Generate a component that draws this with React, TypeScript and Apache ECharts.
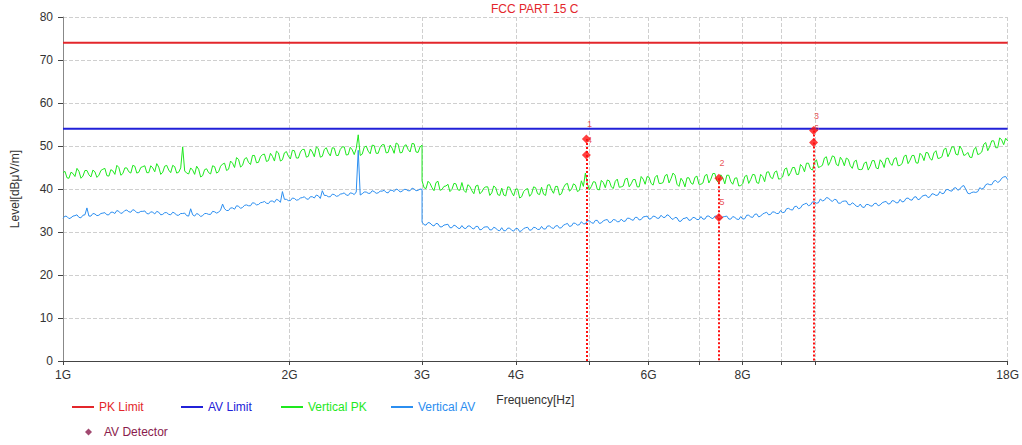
import React, { useEffect, useRef } from "react";
import * as echarts from "echarts";

// ---- Data -------------------------------------------------------------
// Sweep segments (GHz): 1G-3G and 3G-18G, log-spaced sample points
const SWEEP1 = { start: 1, stop: 3, points: 181 };
const SWEEP2 = { start: 3, stop: 18, points: 295 };

const PK_SEG1 = [
  43.8, 44.1, 42.6, 42.5, 43.9, 43.6, 42.9, 44.8, 44.1, 42.5, 43.0, 44.3, 44.3, 43.3, 42.8, 44.4, 44.0, 42.7, 43.2, 44.3,
  44.6, 44.8, 43.1, 43.0, 44.5, 44.2, 43.4, 45.5, 45.0, 43.2, 43.6, 44.9, 44.9, 44.0, 43.7, 45.5, 45.3, 43.7, 43.9, 45.0,
  45.2, 45.4, 43.8, 43.8, 45.4, 44.9, 44.0, 45.9, 45.1, 43.4, 43.9, 45.3, 45.5, 44.4, 43.8, 45.5, 45.2, 43.7, 43.9, 44.9,
  49.8, 44.2, 43.7, 43.5, 44.9, 44.4, 43.4, 45.3, 44.6, 42.8, 43.1, 44.5, 44.7, 43.8, 43.5, 45.4, 45.2, 43.7, 44.0, 45.3,
  45.8, 46.0, 44.3, 44.6, 46.5, 46.0, 45.0, 47.3, 46.9, 45.1, 45.5, 47.0, 47.3, 46.2, 45.7, 47.8, 47.8, 46.1, 46.2, 47.5,
  48.0, 48.1, 46.4, 46.6, 48.3, 47.6, 46.5, 48.8, 48.4, 46.5, 46.8, 48.4, 48.7, 47.6, 47.0, 49.0, 48.9, 47.2, 47.2, 48.6,
  49.2, 49.2, 47.4, 47.6, 49.3, 48.6, 47.5, 49.8, 49.4, 47.4, 47.6, 49.2, 49.6, 48.4, 47.7, 49.6, 49.5, 47.8, 47.8, 49.2,
  49.8, 49.8, 47.9, 48.0, 49.7, 49.1, 48.0, 49.4, 52.6, 47.8, 48.1, 49.7, 50.0, 48.8, 48.2, 50.2, 50.1, 48.3, 48.3, 49.7,
  50.3, 50.3, 48.4, 48.5, 50.2, 49.5, 48.3, 50.7, 50.4, 48.4, 48.5, 50.0, 50.3, 49.2, 48.6, 50.6, 50.5, 48.6, 48.5, 49.8,
  50.2,
];

const PK_SEG2 = [
  41.9, 40.3, 40.1, 41.8, 41.3, 40.3, 39.6, 41.5, 41.8, 39.7, 39.9, 40.6, 40.7, 41.1, 39.4, 39.9, 41.3, 41.2, 39.8, 39.7,
  41.5, 39.7, 39.2, 41.0, 40.6, 39.6, 38.9, 40.7, 40.9, 38.9, 39.3, 40.2, 40.5, 40.5, 38.5, 39.1, 40.7, 40.3, 38.7, 38.5,
  40.2, 38.6, 38.4, 40.5, 40.4, 39.2, 38.4, 40.0, 40.0, 37.9, 38.2, 39.4, 39.9, 40.1, 38.3, 38.9, 40.5, 40.3, 38.9, 38.7,
  40.4, 38.8, 38.5, 40.9, 41.0, 39.8, 39.0, 40.6, 40.6, 38.6, 38.9, 40.3, 41.1, 41.3, 39.5, 39.9, 41.2, 40.9, 39.4, 39.7,
  41.9, 40.6, 43.7, 41.2, 39.8, 40.6, 41.7, 41.6, 39.9, 39.8, 42.0, 41.5, 40.3, 42.1, 41.9, 40.5, 40.1, 41.8, 42.3, 40.4,
  40.5, 40.7, 42.3, 42.5, 40.5, 41.2, 42.2, 42.2, 40.5, 40.5, 42.9, 42.3, 41.1, 42.9, 42.7, 41.3, 40.9, 42.7, 43.2, 41.3,
  41.3, 41.5, 43.1, 43.4, 41.4, 42.4, 43.7, 43.2, 41.1, 40.6, 42.5, 41.8, 40.5, 42.6, 42.6, 41.4, 41.1, 42.7, 43.0, 41.1,
  41.1, 41.4, 43.1, 43.4, 41.4, 42.3, 43.6, 43.6, 41.9, 41.4, 43.3, 42.6, 41.2, 43.2, 43.2, 41.7, 41.1, 42.5, 42.6, 40.7,
  40.8, 41.2, 42.9, 43.2, 41.3, 42.2, 43.4, 43.3, 41.5, 41.3, 43.4, 42.9, 41.7, 43.9, 44.0, 42.7, 42.4, 43.9, 44.2, 42.3,
  42.4, 42.8, 44.6, 44.9, 43.0, 43.8, 45.0, 45.0, 43.4, 43.4, 45.7, 45.2, 44.0, 46.0, 46.0, 44.7, 44.4, 46.2, 46.8, 45.0,
  45.2, 45.5, 47.2, 47.5, 45.5, 46.4, 47.7, 47.5, 45.7, 45.4, 47.4, 46.7, 45.4, 47.2, 46.9, 45.4, 44.8, 46.4, 46.7, 44.6,
  44.5, 44.6, 46.0, 46.3, 44.4, 45.3, 46.6, 46.6, 44.9, 44.7, 46.8, 46.2, 45.0, 47.1, 47.2, 45.9, 45.5, 47.0, 47.3, 45.4,
  45.5, 45.9, 47.6, 47.9, 45.9, 46.7, 47.8, 47.8, 46.1, 46.0, 48.3, 47.8, 46.6, 48.5, 48.4, 47.1, 46.7, 48.4, 48.9, 47.1,
  47.2, 47.5, 49.2, 49.5, 47.5, 48.5, 49.8, 49.8, 48.1, 47.9, 50.0, 49.2, 47.8, 48.0, 48.5, 47.4, 47.3, 49.1, 49.7, 48.0,
  48.2, 48.6, 50.4, 50.8, 48.9, 49.9, 51.2, 51.2, 49.6, 49.6, 51.9, 51.4, 50.3, 51.8,
  51.2,
];

const AV_SEG1 = [
  33.2, 33.7, 33.6, 33.1, 33.3, 33.7, 33.8, 34.0, 33.4, 33.3, 33.9, 34.0, 35.6, 33.7, 33.7, 34.3, 34.2, 33.8, 33.9, 34.3,
  34.4, 34.5, 34.0, 34.0, 34.6, 34.6, 34.3, 35.0, 34.8, 34.3, 34.5, 35.0, 35.1, 34.7, 34.6, 35.2, 35.0, 34.5, 34.5, 34.8,
  34.8, 34.9, 34.3, 34.2, 34.7, 34.6, 34.2, 34.8, 34.6, 34.0, 34.1, 34.5, 34.5, 34.1, 34.0, 34.6, 34.4, 33.9, 33.9, 34.3,
  34.3, 34.4, 33.8, 33.7, 35.4, 34.0, 33.7, 34.3, 34.1, 33.6, 33.8, 34.3, 34.3, 34.1, 34.1, 34.8, 34.7, 34.4, 34.6, 35.1,
  36.5, 35.4, 35.0, 35.0, 35.6, 35.6, 35.3, 36.1, 36.0, 35.5, 35.7, 36.2, 36.3, 36.1, 36.1, 36.8, 36.7, 36.3, 36.4, 36.8,
  36.9, 37.1, 36.7, 36.6, 37.2, 37.2, 36.9, 37.6, 37.4, 36.9, 39.4, 37.6, 37.6, 37.3, 37.3, 37.9, 37.8, 37.4, 37.5, 37.9,
  38.0, 38.2, 37.7, 37.6, 38.2, 38.2, 37.9, 38.6, 38.4, 37.8, 39.6, 38.5, 38.5, 38.2, 38.2, 38.8, 38.7, 38.3, 38.4, 38.8,
  38.9, 39.1, 38.6, 38.5, 39.1, 39.0, 38.7, 39.3, 49.0, 38.6, 38.9, 39.3, 39.3, 39.0, 39.0, 39.6, 39.4, 39.0, 39.1, 39.5,
  39.5, 39.7, 39.2, 39.1, 39.7, 39.7, 39.4, 40.0, 39.8, 39.3, 39.5, 39.9, 39.9, 39.6, 39.6, 40.2, 40.0, 39.6, 39.7, 40.0,
  39.9,
];

const AV_SEG2 = [
  32.3, 31.7, 31.6, 32.2, 32.1, 31.6, 31.4, 32.0, 31.9, 31.2, 31.2, 31.6, 31.7, 31.8, 31.0, 31.0, 31.6, 31.4, 30.9, 30.8,
  31.5, 30.9, 30.8, 31.4, 31.4, 30.9, 30.7, 31.3, 31.3, 30.5, 30.6, 31.1, 31.2, 31.2, 30.5, 30.5, 31.1, 30.9, 30.4, 30.3,
  31.0, 30.3, 30.3, 30.9, 30.9, 30.4, 30.2, 30.8, 30.8, 30.1, 30.3, 30.8, 31.0, 31.1, 30.4, 30.5, 31.1, 31.0, 30.6, 30.6,
  31.3, 30.7, 30.7, 31.4, 31.4, 31.0, 30.8, 31.4, 31.5, 30.9, 31.0, 31.6, 31.8, 32.0, 31.3, 31.4, 32.1, 32.0, 31.6, 31.7,
  32.4, 31.9, 31.9, 32.6, 32.6, 32.2, 32.0, 32.7, 32.7, 32.0, 32.1, 32.6, 32.8, 32.9, 32.2, 32.3, 32.9, 32.8, 32.4, 32.4,
  33.0, 32.5, 32.5, 33.2, 33.2, 32.9, 32.7, 33.4, 33.4, 32.8, 32.9, 33.5, 33.6, 33.7, 33.0, 33.1, 33.7, 33.6, 33.2, 33.2,
  33.9, 33.4, 33.4, 34.0, 33.8, 33.2, 32.9, 33.4, 33.3, 32.5, 32.5, 33.1, 33.2, 33.4, 32.7, 32.8, 33.4, 33.3, 32.9, 32.9,
  33.6, 33.0, 33.0, 33.7, 33.7, 33.3, 33.1, 33.7, 33.7, 33.0, 33.1, 33.5, 33.6, 33.7, 33.0, 33.0, 33.6, 33.4, 33.0, 32.9,
  33.6, 33.0, 33.1, 33.9, 33.9, 33.5, 33.4, 34.1, 34.2, 33.5, 33.7, 34.2, 34.4, 34.6, 34.0, 34.1, 34.7, 34.6, 34.3, 34.3,
  35.0, 34.5, 34.6, 35.4, 35.5, 35.2, 35.1, 35.9, 36.0, 35.4, 35.6, 36.3, 36.5, 36.7, 36.1, 36.3, 37.0, 37.0, 36.7, 36.8,
  37.7, 37.2, 37.4, 38.0, 37.9, 37.4, 37.1, 37.6, 37.5, 36.7, 36.7, 37.1, 37.2, 37.2, 36.4, 36.3, 36.8, 36.5, 36.0, 35.9,
  36.5, 35.8, 35.7, 36.4, 36.4, 36.1, 36.0, 36.6, 36.7, 36.1, 36.3, 36.8, 37.0, 37.1, 36.5, 36.6, 37.3, 37.2, 36.8, 36.8,
  37.6, 37.0, 37.1, 37.8, 37.9, 37.5, 37.4, 38.1, 38.2, 37.5, 37.7, 38.3, 38.5, 38.6, 38.0, 38.2, 38.9, 38.8, 38.5, 38.6,
  39.4, 38.9, 39.0, 39.8, 39.9, 39.6, 39.5, 40.2, 40.3, 39.7, 40.0, 40.6, 40.8, 39.9, 39.0, 38.9, 39.2, 39.3, 39.2, 39.4,
  40.3, 40.0, 40.2, 41.0, 41.2, 41.0, 41.0, 41.8, 42.0, 41.5, 41.8, 42.5, 42.8, 42.9,
  42.2,
];

const PK_LIMIT = 74;
const AV_LIMIT = 54;
const LIMIT_SPAN = [1, 18];

const MARKER_FREQ = [4.96, 7.44, 9.94];
const PK_MARKERS = [51.6, 42.5, 53.6];
const AV_MARKERS = [47.9, 33.4, 50.8];
const PK_MARKER_LABELS = ["1", "2", "3"];
const AV_MARKER_LABELS = ["4", "5", "6"];

const X_LABEL_VALUES = [1, 2, 3, 4, 6, 8, 18];
const X_TICK_VALUES = [1, 2, 3, 4, 5, 6, 7, 8, 9, 10, 18];

// ---- Helpers ----------------------------------------------------------
function sweep(s: { start: number; stop: number; points: number }) {
  const out: number[] = [];
  for (let i = 0; i < s.points; i++) {
    out.push(s.start * Math.pow(s.stop / s.start, i / (s.points - 1)));
  }
  return out;
}

function joinTrace(a: number[], b: number[]) {
  const f1 = sweep(SWEEP1);
  const f2 = sweep(SWEEP2);
  return [
    ...a.map((v, i) => [f1[i], v]),
    ...b.map((v, i) => [f2[i], v]),
  ];
}

const FONT = "'Liberation Sans', Arial, sans-serif";
const RED = "#e3262b";
const BLUE = "#2121d8";
const GREEN = "#1ee81e";
const LBLUE = "#2b8ef0";
const MAROON = "#8a1c4c";

export default function App() {
  const ref = useRef<HTMLDivElement>(null);

  useEffect(() => {
    if (!ref.current) return;
    const chart = echarts.init(ref.current, undefined, { renderer: "svg" });

    const pk = joinTrace(PK_SEG1, PK_SEG2);
    const av = joinTrace(AV_SEG1, AV_SEG2);

    const limitData = (v: number, text: string, color: string) => [
      [LIMIT_SPAN[0], v],
      {
        value: [LIMIT_SPAN[1], v],
        label: {
          show: true,
          position: "top",
          align: "right",
          distance: 5,
          formatter: text,
          color,
          fontSize: 12,
          fontFamily: FONT,
        },
      },
    ];

    const legendBase = {
      orient: "horizontal",
      padding: 0,
      itemWidth: 22,
      itemHeight: 2,
      icon: "rect",
      selectedMode: false,
    };

    chart.setOption({
      animation: false,
      backgroundColor: "#ffffff",
      textStyle: { fontFamily: FONT },
      title: {
        text: "FCC PART 15 C",
        left: 491,
        top: 3,
        padding: 0,
        textStyle: { color: RED, fontSize: 12, fontWeight: "normal", fontFamily: FONT },
      },
      legend: [
        { ...legendBase, left: 72, top: 401, data: ["PK Limit"], textStyle: { color: RED, fontSize: 12, fontFamily: FONT } },
        { ...legendBase, left: 181, top: 401, data: ["AV Limit"], textStyle: { color: BLUE, fontSize: 12, fontFamily: FONT } },
        { ...legendBase, left: 281, top: 401, data: ["Vertical PK"], textStyle: { color: GREEN, fontSize: 12, fontFamily: FONT } },
        { ...legendBase, left: 391, top: 401, data: ["Vertical AV"], textStyle: { color: LBLUE, fontSize: 12, fontFamily: FONT } },
        {
          ...legendBase,
          left: 85,
          top: 426,
          icon: "diamond",
          itemWidth: 7,
          itemHeight: 7,
          data: [{ name: "AV Detector", itemStyle: { color: MAROON } }],
          textStyle: { color: MAROON, fontSize: 12, fontFamily: FONT, padding: [0, 0, 0, 7] },
        },
      ],
      grid: { left: 63, right: 12, top: 17, bottom: 84, containLabel: false },
      xAxis: {
        type: "log",
        logBase: 10,
        min: 1,
        max: 18,
        name: "Frequency[Hz]",
        nameLocation: "middle",
        nameGap: 33,
        nameTextStyle: { color: "#333", fontSize: 12, fontFamily: FONT },
        axisLine: { lineStyle: { color: "#444", width: 1 } },
        axisTick: { show: true, length: 4, customValues: X_TICK_VALUES, lineStyle: { color: "#444" } },
        axisLabel: {
          customValues: X_LABEL_VALUES,
          formatter: (v: number) => Math.round(v) + "G",
          color: "#333",
          fontSize: 12,
          margin: 8,
          fontFamily: FONT,
        },
        splitLine: { show: true, lineStyle: { color: "#cfcfcf", type: "dashed", width: 1 } },
        minorSplitLine: { show: false },
      },
      yAxis: {
        type: "value",
        min: 0,
        max: 80,
        interval: 10,
        name: "Level[dBμV/m]",
        nameLocation: "middle",
        nameGap: 42,
        nameTextStyle: { color: "#333", fontSize: 12, fontFamily: FONT },
        axisLine: { show: true, lineStyle: { color: "#888", width: 1 } },
        axisTick: { show: true, length: 5, lineStyle: { color: "#444" } },
        axisLabel: { color: "#333", fontSize: 12, margin: 10, fontFamily: FONT },
        splitLine: { show: true, lineStyle: { color: "#cfcfcf", type: "dashed", width: 1 } },
      },
      series: [
        {
          name: "Vertical PK",
          type: "line",
          data: pk,
          showSymbol: false,
          symbol: "none",
          lineStyle: { color: GREEN, width: 1 },
          itemStyle: { color: GREEN },
          z: 2,
        },
        {
          name: "Vertical AV",
          type: "line",
          data: av,
          showSymbol: false,
          symbol: "none",
          lineStyle: { color: LBLUE, width: 1 },
          itemStyle: { color: LBLUE },
          z: 3,
        },
        {
          name: "PK Limit",
          type: "line",
          data: limitData(PK_LIMIT, "FCC PART 15 C-PK Limit", RED),
          symbol: "none",
          lineStyle: { color: RED, width: 2 },
          itemStyle: { color: RED },
          z: 4,
        },
        {
          name: "AV Limit",
          type: "line",
          data: limitData(AV_LIMIT, "FCC PART 15 C-AV Limit", BLUE),
          symbol: "none",
          lineStyle: { color: BLUE, width: 2 },
          itemStyle: { color: BLUE },
          z: 4,
        },
        {
          name: "PK Detector",
          type: "scatter",
          symbol: "diamond",
          symbolSize: 9,
          itemStyle: { color: "#ff1010" },
          data: MARKER_FREQ.map((f, i) => ({ value: [f, PK_MARKERS[i]], name: PK_MARKER_LABELS[i] })),
          label: {
            show: true,
            position: "top",
            distance: 6,
            offset: [3, 0],
            formatter: "{b}",
            color: RED,
            fontSize: 9,
            fontFamily: FONT,
          },
          markLine: {
            silent: true,
            symbol: "none",
            label: { show: false },
            lineStyle: { color: "#ff1010", type: "dotted", width: 2 },
            data: MARKER_FREQ.map((f, i) => [
              { coord: [f, PK_MARKERS[i]] },
              { coord: [f, 0] },
            ]),
          },
          z: 6,
        },
        {
          name: "AV Detector",
          type: "scatter",
          symbol: "diamond",
          symbolSize: 9,
          itemStyle: { color: "#ff1010" },
          data: MARKER_FREQ.map((f, i) => ({ value: [f, AV_MARKERS[i]], name: AV_MARKER_LABELS[i] })),
          label: {
            show: true,
            position: "top",
            distance: 6,
            offset: [3, 0],
            formatter: "{b}",
            color: RED,
            fontSize: 9,
            fontFamily: FONT,
          },
          z: 7,
        },
      ],
    });

    return () => chart.dispose();
  }, []);

  return (
    <div
      ref={ref}
      style={{ position: "fixed", left: 0, top: 0, width: 1022, height: 445 }}
    />
  );
}
